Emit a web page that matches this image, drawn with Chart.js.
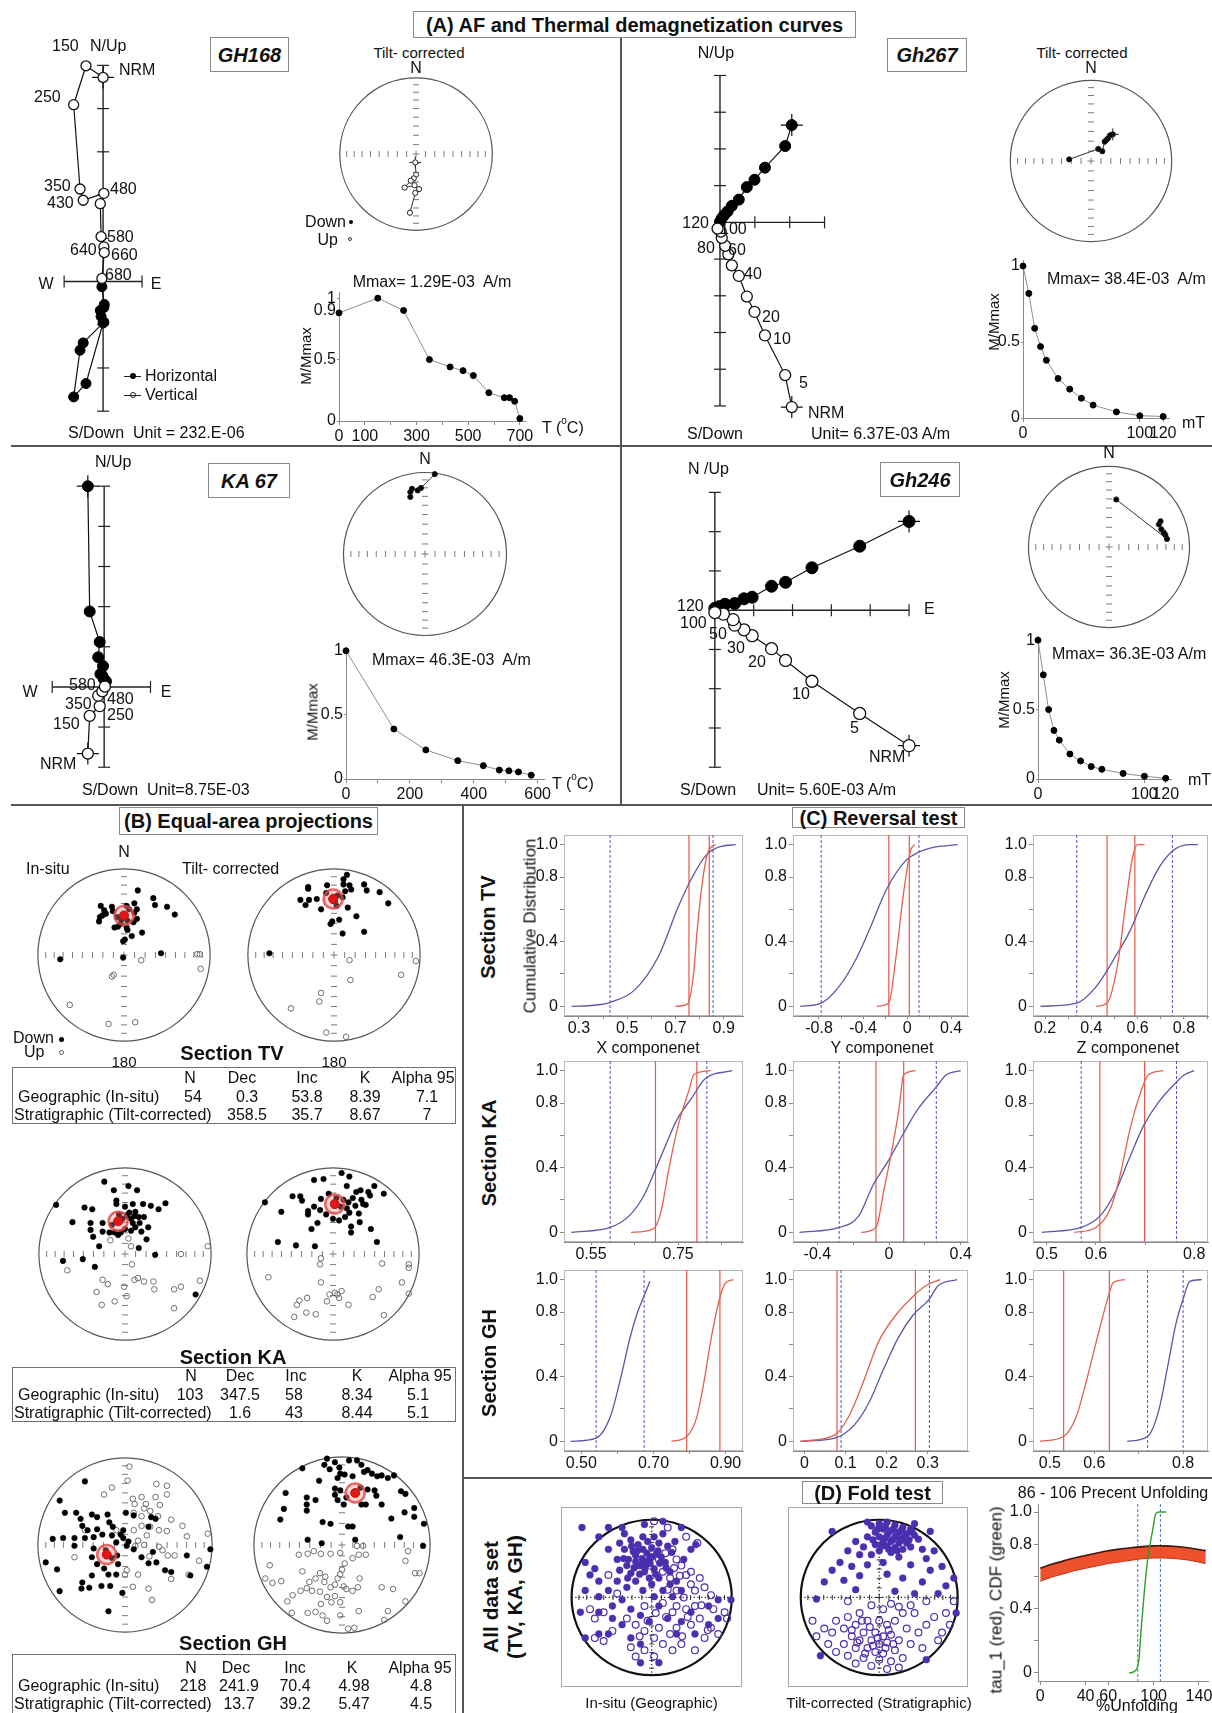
<!DOCTYPE html>
<html>
<head>
<meta charset="utf-8">
<title>Demagnetization, equal-area projections, reversal and fold tests</title>
<script src="https://cdn.jsdelivr.net/npm/chart.js@4/dist/chart.umd.min.js"></script>
<style>
  body { margin: 0; background: #fff; }
  #page { position: relative; width: 1212px; height: 1713px; overflow: hidden; background: #fff;
          font-family: "Liberation Sans", Arial, Helvetica, sans-serif; color: #111; }
  #page canvas { position: absolute; }
  .t { position: absolute; white-space: nowrap; line-height: 1; }
  .ln { position: absolute; }
  .bx { position: absolute; box-sizing: border-box; }
  .dt { position: absolute; box-sizing: border-box; border-radius: 50%; }
</style>
</head>
<body>
<div id="page"></div>
<script>
// ================= (A) demagnetization data =================
// Zijderveld: [E, N] (horizontal, solid) and [E, Up] (vertical, open), in axis-tick units
const gh168Vert  = [[0,4.72],[-0.43,4.99],[-0.74,4.09],[-0.58,2.14],[-0.50,1.88],[0.02,2.04],[-0.07,1.80],[-0.05,1.04],[0.02,0.80],[0.03,0.67],[-0.03,0.07]];
const gh168Horiz = [[0.0,-0.96],[-0.43,-2.36],[-0.74,-2.67],[-0.58,-1.59],[-0.50,-1.42],[0.02,-0.94],[-0.07,-0.67],[-0.05,-0.81],[0.02,-0.60],[0.03,-0.53],[-0.03,-0.12]];
const gh168VTicks = [-3,-2,-1,1,2,3,4,5];
const gh168HTicks = [-0.98,0.98];
const gh168Dirs = [[-0.01,-0.11],[0,-0.27],[-0.03,-0.32],[-0.07,-0.35],[-0.15,-0.44],[-0.02,-0.41],[0.04,-0.46],[-0.01,-0.51],[-0.08,-0.77]];
const gh168Temp = [0,150,250,350,430,480,520,580,640,660,680,700];
const gh168Int  = [0.88,1.0,0.90,0.50,0.44,0.41,0.37,0.23,0.19,0.19,0.16,0.02];

const gh267Vert  = [[2.06,-5.03],[1.87,-4.16],[1.29,-3.08],[0.99,-2.44],[0.77,-2.02],[0.54,-1.46],[0.34,-1.17],[0.24,-0.87],[0.15,-0.64],[0.05,-0.42],[0.02,-0.25],[-0.07,-0.17]];
const gh267Horiz = [[2.06,2.65],[1.87,2.08],[1.29,1.49],[0.99,1.16],[0.77,0.96],[0.54,0.62],[0.34,0.45],[0.22,0.30],[0.12,0.20],[0.05,0.11],[0,0.02]];
const gh267VTicks = [-5,-4,-3,-2,-1,1,2,3,4];
const gh267HTicks = [1,2,3];
const gh267Dirs = [[0.27,0.33],[0.24,0.32],[0.21,0.28],[0.19,0.26],[0.17,0.24],[0.14,0.12],[0.09,0.15],[-0.27,0.02]];
const gh267Field = [0,5,10,15,20,30,40,50,60,80,100,120];
const gh267Int   = [1.0,0.82,0.59,0.47,0.38,0.26,0.19,0.13,0.085,0.04,0.015,0.01];

const ka67Vert  = [[-0.44,-1.66],[-0.39,-0.72],[-0.12,-0.48],[-0.16,-0.22],[-0.05,-0.11],[0.02,0.01]];
const ka67Horiz = [[-0.44,5.0],[-0.39,1.88],[-0.12,1.12],[-0.16,0.74],[-0.03,0.52],[-0.10,0.32],[-0.05,0.28],[-0.01,0.20],[0.05,0.14]];
const ka67VTicks = [-2,-1,1,2,3,4,5];
const ka67HTicks = [-1.4,1.25];
const ka67Dirs = [[0.12,0.98],[-0.05,0.81],[-0.09,0.78],[-0.16,0.80],[-0.18,0.76],[-0.18,0.70]];
const ka67Temp = [0,150,250,350,430,480,510,540,580];
const ka67Int  = [1.0,0.39,0.227,0.143,0.104,0.07,0.064,0.055,0.03];

const gh246Vert  = [[5.0,-3.45],[3.73,-2.63],[2.50,-1.81],[1.82,-1.28],[1.46,-0.98],[0.96,-0.65],[0.75,-0.50],[0.51,-0.38],[0.47,-0.24],[0.22,-0.10],[0,-0.06]];
const gh246Horiz = [[5.0,2.26],[3.73,1.63],[2.50,1.08],[1.82,0.71],[1.46,0.61],[0.96,0.33],[0.75,0.29],[0.51,0.17],[0.26,0.15],[0.11,0.09],[0,0.05]];
const gh246VTicks = [-4,-3,-2,-1,1,2,3];
const gh246HTicks = [1,2,3,4,5];
const gh246Dirs = [[0.09,0.59],[0.72,0.10],[0.70,0.15],[0.68,0.18],[0.65,0.22],[0.62,0.28],[0.64,0.32]];
const gh246Field = [0,5,10,15,20,30,40,50,60,80,100,120];
const gh246Int   = [1.0,0.75,0.50,0.35,0.28,0.18,0.13,0.09,0.07,0.04,0.02,0.005];

// decay-curve tick labels
const thermTicks700 = [[0,'0'],[100,'100'],[200,''],[300,'300'],[400,''],[500,'500'],[600,''],[700,'700']];
const thermTicks600 = [[0,'0'],[100,''],[200,'200'],[300,''],[400,'400'],[500,''],[600,'600']];
const afTicks = [[0,'0'],[100,'100'],[120,'120']];
const gh168MTicks = [[0,'0'],[0.5,'0.5'],[0.9,'0.9'],[1,'1']];
const normTicks = [[0,'0'],[0.5,'0.5'],[1,'1']];

// ================= (B) equal-area projections (unit-circle x = E, y = N) =================
const tvInSolid = [[0.16,0.75],[0.34,0.66],[0.36,0.58],[0.50,0.56],[0.59,0.47],[0.12,0.60],[0.15,0.53],[0.12,0.49],[0.15,0.42],[0.11,0.38],[0.04,0.40],[0.03,0.32],[0.04,0.29],[0.01,0.18],[-0.01,0.16],[0.09,0.22],[0.21,0.26],[-0.27,0.57],[-0.23,0.52],[-0.21,0.48],[-0.14,0.56],[-0.13,0.51],[-0.28,0.44],[-0.29,0.39],[-0.25,0.46],[-0.11,0.32],[-0.07,0.33],[-0.04,0.36],[-0.08,0.44],[0.03,0.57],[0.06,0.53],[-0.03,0.41],[-0.74,-0.05],[-0.01,-0.03],[0.43,0.02]];
const tvInOpen = [[0.20,-0.06],[-0.14,-0.25],[-0.12,-0.23],[0.89,-0.16],[0.85,0.01],[0.88,0.01],[-0.63,-0.58],[-0.18,-0.80],[0.13,-0.78]];
const tvInMean = [0.0,0.46];
const tvTcSolid = [[0.15,0.93],[0.11,0.88],[0.11,0.82],[0.18,0.81],[0.20,0.76],[0.35,0.82],[0.38,0.75],[0.53,0.73],[0.63,0.60],[0.26,0.45],[0.35,0.27],[0.10,0.25],[0.16,0.55],[0.06,0.41],[-0.02,0.39],[-0.04,0.36],[0.01,0.62],[0.03,0.57],[0.04,0.69],[-0.08,0.81],[-0.09,0.72],[-0.15,0.53],[-0.20,0.65],[-0.29,0.64],[-0.33,0.58],[-0.39,0.64],[-0.30,0.79],[-0.30,0.77],[0.10,0.67],[0.13,0.74],[-0.75,0.02]];
const tvTcOpen = [[0.18,-0.06],[0.19,-0.29],[0.95,-0.07],[0.78,-0.23],[-0.15,-0.44],[-0.17,-0.54],[-0.50,-0.62],[-0.09,-0.90],[0.14,-0.95]];
const tvTcMean = [-0.01,0.65];

const kaInSolid = [[-0.24,0.84],[-0.13,0.74],[0.04,0.79],[0.14,0.74],[-0.10,0.62],[-0.10,0.58],[0.00,0.55],[0.09,0.58],[0.21,0.58],[0.30,0.56],[0.39,0.52],[0.47,0.59],[-0.80,0.57],[-0.61,0.37],[-0.47,0.54],[-0.38,0.52],[-0.40,0.36],[-0.40,0.28],[-0.37,0.20],[-0.26,0.36],[-0.26,0.26],[-0.18,0.25],[-0.15,0.34],[-0.12,0.25],[-0.08,0.22],[-0.05,0.25],[0.00,0.29],[0.02,0.44],[0.05,0.48],[0.07,0.41],[0.11,0.44],[0.12,0.49],[0.16,0.43],[0.09,0.36],[0.12,0.31],[0.17,0.36],[0.22,0.43],[0.27,0.31],[0.19,0.26],[0.07,0.27],[0.25,0.17],[0.16,0.07],[-0.30,0.09],[-0.49,-0.06],[-0.72,-0.08],[-0.35,-0.15],[0.35,-0.01],[0.82,-0.47],[-0.03,0.41],[-0.07,0.46]];
const kaInOpen = [[-0.17,0.16],[0.04,0.18],[0.07,0.09],[0.96,0.09],[0.65,0.00],[-0.67,-0.19],[0.08,-0.12],[-0.26,-0.30],[-0.20,-0.35],[-0.33,-0.44],[-0.27,-0.59],[-0.12,-0.55],[-0.01,-0.38],[0.02,-0.49],[0.11,-0.30],[0.15,-0.28],[0.22,-0.32],[0.33,-0.32],[0.34,-0.41],[0.57,-0.41],[0.65,-0.38],[0.87,-0.31],[0.57,-0.63]];
const kaInMean = [-0.08,0.38];
const kaTcSolid = [[0.10,0.94],[-0.22,0.86],[-0.11,0.87],[0.19,0.90],[0.16,0.79],[0.27,0.72],[0.32,0.74],[0.41,0.72],[0.48,0.79],[0.59,0.70],[0.43,0.68],[-0.47,0.67],[-0.38,0.67],[-0.36,0.62],[-0.14,0.64],[-0.05,0.70],[0.04,0.65],[0.12,0.63],[0.18,0.60],[0.23,0.65],[0.26,0.56],[0.33,0.63],[0.35,0.58],[0.38,0.57],[0.16,0.53],[0.19,0.48],[0.14,0.43],[0.07,0.39],[0.00,0.41],[-0.08,0.46],[-0.15,0.51],[-0.22,0.55],[-0.29,0.50],[-0.29,0.46],[-0.18,0.36],[-0.25,0.29],[0.21,0.32],[0.21,0.25],[0.31,0.37],[0.44,0.29],[0.02,0.56],[0.09,0.55],[0.30,0.47],[-0.79,0.60],[-0.60,0.49],[-0.64,0.14],[-0.43,0.10],[-0.21,0.09],[0.51,0.14]];
const kaTcOpen = [[-0.14,-0.05],[-0.15,-0.12],[-0.75,-0.27],[-0.14,-0.33],[0.57,-0.11],[0.88,-0.12],[0.88,-0.16],[0.80,-0.33],[0.53,-0.41],[0.46,-0.50],[0.88,-0.46],[-0.39,-0.54],[-0.42,-0.59],[-0.30,-0.51],[-0.04,-0.47],[0.02,-0.45],[0.05,-0.47],[0.07,-0.51],[0.10,-0.43],[-0.07,-0.55],[0.18,-0.59],[-0.45,-0.73],[-0.31,-0.68],[-0.20,-0.70],[0.59,-0.71]];
const kaTcMean = [0.02,0.58];

const ghInSolid = [[-0.46,0.73],[-0.75,0.51],[-0.69,0.37],[-0.56,0.37],[-0.51,0.30],[-0.38,0.35],[-0.32,0.32],[-0.20,0.35],[0.01,0.37],[0.10,0.34],[0.30,0.32],[-0.83,0.07],[-0.71,0.08],[-0.58,0.08],[-0.46,0.08],[-0.36,0.09],[-0.32,0.18],[-0.43,0.17],[-0.49,0.22],[-0.18,0.26],[-0.14,0.21],[-0.15,0.11],[-0.10,0.03],[-0.02,0.17],[-0.02,0.08],[0.02,-0.01],[0.04,0.04],[0.10,-0.05],[-0.91,-0.20],[-0.78,-0.28],[-0.58,-0.01],[-0.36,-0.04],[-0.38,-0.14],[-0.32,-0.22],[-0.24,-0.27],[-0.15,-0.15],[-0.09,-0.12],[-0.08,-0.22],[-0.19,-0.34],[-0.10,-0.34],[-0.38,-0.35],[-0.49,-0.43],[-0.50,-0.50],[-0.41,-0.49],[-0.27,-0.47],[-0.17,-0.47],[-0.03,-0.55],[-0.75,-0.53],[-0.19,-0.76],[0.19,-0.14],[0.27,-0.21],[0.36,-0.20],[0.46,-0.29],[0.53,-0.31],[0.75,-0.35],[0.94,-0.25],[0.98,-0.05],[0.71,-0.12],[0.32,-0.08],[0.35,0.30],[0.27,0.21],[-0.26,0.12],[-0.22,-0.06],[-0.05,0.12]];
const ghInOpen = [[0.05,0.90],[0.03,0.74],[-0.15,0.66],[-0.24,0.58],[0.36,0.70],[0.48,0.68],[0.48,0.58],[0.09,0.53],[0.19,0.55],[0.11,0.47],[0.24,0.47],[0.35,0.55],[0.40,0.46],[0.22,0.42],[0.29,0.39],[0.10,0.37],[0.19,0.33],[0.38,0.33],[0.53,0.29],[0.66,0.22],[0.95,0.13],[0.19,0.22],[0.29,0.21],[0.10,0.17],[0.25,0.11],[0.39,0.17],[0.48,0.16],[0.71,0.10],[0.15,0.05],[0.22,0.00],[0.12,-0.01],[0.39,-0.02],[0.43,-0.06],[0.49,-0.12],[0.57,-0.12],[-0.46,0.17],[-0.58,-0.14],[-0.10,0.17],[0.28,-0.13],[0.02,-0.29],[0.00,-0.34],[0.15,-0.34],[0.09,-0.48],[0.27,-0.50],[0.31,-0.63],[0.53,-0.39],[0.73,-0.34],[0.85,-0.18]];
const ghInMean = [-0.21,-0.11];
const ghTcSolid = [[-0.17,0.98],[-0.08,0.94],[0.08,0.96],[0.17,0.96],[0.22,0.91],[-0.20,0.91],[-0.14,0.86],[-0.03,0.88],[-0.02,0.81],[-0.05,0.76],[0.03,0.80],[0.12,0.78],[0.25,0.83],[0.29,0.85],[0.34,0.81],[0.40,0.78],[0.45,0.79],[0.52,0.76],[0.59,0.79],[-0.45,0.87],[-0.26,0.73],[-0.08,0.64],[-0.02,0.62],[-0.08,0.57],[0.05,0.54],[0.21,0.65],[0.29,0.63],[0.37,0.62],[0.39,0.56],[0.27,0.46],[0.22,0.46],[0.45,0.46],[0.02,0.46],[-0.05,0.51],[-0.30,0.51],[-0.40,0.54],[-0.40,0.46],[-0.40,0.39],[-0.64,0.59],[-0.66,0.41],[-0.70,0.29],[-0.22,0.26],[-0.13,0.24],[0.07,0.21],[0.12,0.21],[0.67,0.61],[0.72,0.58],[0.56,0.30],[0.71,0.37],[0.82,0.42],[0.82,0.32],[0.93,0.24],[0.66,0.09],[0.92,-0.01],[-0.39,0.06],[-0.23,0.02],[0.15,0.06]];
const ghTcOpen = [[0.17,-0.01],[0.24,-0.01],[0.19,-0.11],[0.27,-0.11],[0.12,-0.15],[-0.02,-0.09],[-0.13,-0.10],[-0.24,-0.10],[-0.32,-0.07],[-0.39,-0.10],[-0.49,-0.11],[0.03,-0.21],[0.00,-0.28],[-0.02,-0.33],[-0.05,-0.38],[-0.08,-0.45],[-0.19,-0.36],[-0.20,-0.42],[-0.25,-0.32],[-0.30,-0.38],[-0.37,-0.42],[-0.45,-0.30],[-0.47,-0.52],[-0.56,-0.57],[-0.62,-0.64],[-0.57,-0.77],[-0.82,-0.23],[-0.87,-0.38],[-0.79,-0.43],[-0.69,-0.41],[-0.40,-0.49],[-0.34,-0.52],[-0.25,-0.53],[-0.13,-0.48],[0.02,-0.47],[0.05,-0.50],[0.12,-0.52],[0.18,-0.48],[0.20,-0.38],[-0.17,-0.59],[-0.08,-0.58],[-0.24,-0.67],[-0.12,-0.65],[-0.02,-0.65],[-0.39,-0.77],[-0.30,-0.76],[-0.22,-0.80],[-0.17,-0.86],[-0.02,-0.80],[0.19,-0.75],[0.14,-0.94],[0.07,-0.95],[0.52,-0.75],[0.48,-0.85],[0.45,-0.48],[0.58,-0.50],[0.72,-0.64],[0.72,-0.18],[0.75,-0.07],[0.83,-0.32],[0.88,-0.32]];
const ghTcMean = [0.15,0.59];

// statistics tables
const tableHead = ['N','Dec','Inc','K','Alpha 95'];
const rowNames = ['Geographic (In-situ)','Stratigraphic (Tilt-corrected)'];
const tvStats = [['54','0.3','53.8','8.39','7.1'],['','358.5','35.7','8.67','7']];
const kaStats = [['103','347.5','58','8.34','5.1'],['','1.6','43','8.44','5.1']];
const ghStats = [['218','241.9','70.4','4.98','4.8'],['','13.7','39.2','5.47','4.5']];

// ================= (C) reversal test: bootstrap CDFs [value, cumulative] =================
const cdfYTicks = [[0,'0'],[0.2,''],[0.4,'0.4'],[0.6,''],[0.8,'0.8'],[1,'1.0']];
const tvXTicks = [[0.3,'0.3'],[0.4,''],[0.5,'0.5'],[0.6,''],[0.7,'0.7'],[0.8,''],[0.9,'0.9']];
const tvXBlue = [[0.27,0],[0.35,0.005],[0.43,0.025],[0.53,0.10],[0.63,0.31],[0.71,0.61],[0.77,0.80],[0.83,0.94],[0.89,0.99],[0.95,1.0]];
const tvXRed  = [[0.70,0],[0.75,0.015],[0.775,0.2],[0.79,0.47],[0.81,0.75],[0.83,0.93],[0.85,0.99],[0.865,1.0]];
const tvXBounds = {blue: [0.429,0.856], red: [0.756,0.84]};
const tvYTicks = [[-0.8,'-0.8'],[-0.6,''],[-0.4,'-0.4'],[-0.2,''],[0,'0'],[0.2,''],[0.4,'0.4']];
const tvYBlue = [[-0.97,0],[-0.78,0.02],[-0.62,0.12],[-0.45,0.31],[-0.32,0.51],[-0.19,0.72],[-0.015,0.90],[0.11,0.955],[0.25,0.985],[0.46,1.0]];
const tvYRed  = [[-0.275,0],[-0.166,0.02],[-0.10,0.31],[-0.036,0.68],[0.03,0.96],[0.07,1.0]];
const tvYBounds = {blue: [-0.78,0.108], red: [-0.166,0.02]};
const tvZTicks = [[0.2,'0.2'],[0.3,''],[0.4,'0.4'],[0.5,''],[0.6,'0.6'],[0.7,''],[0.8,'0.8'],[0.9,'']];
const tvZBlue = [[0.18,0],[0.337,0.02],[0.42,0.12],[0.505,0.31],[0.568,0.47],[0.63,0.68],[0.693,0.86],[0.75,0.96],[0.82,1.0],[0.86,1.0]];
const tvZRed  = [[0.42,0],[0.468,0.02],[0.515,0.27],[0.547,0.62],[0.578,0.92],[0.60,1.0],[0.63,1.0]];
const tvZBounds = {blue: [0.337,0.75], red: [0.468,0.588]};

const kaXTicks = [[0.55,'0.55'],[0.65,''],[0.75,'0.75'],[0.85,'']];
const kaXBlue = [[0.505,0],[0.594,0.03],[0.637,0.10],[0.670,0.22],[0.692,0.35],[0.720,0.53],[0.748,0.70],[0.781,0.83],[0.812,0.95],[0.874,1.0]];
const kaXRed  = [[0.642,0],[0.692,0.02],[0.71,0.12],[0.73,0.41],[0.752,0.68],[0.775,0.88],[0.786,0.975],[0.825,1.0]];
const kaXBounds = {blue: [0.594,0.816], red: [0.698,0.793]};
const kaYTicks = [[-0.4,'-0.4'],[-0.2,''],[0,'0'],[0.2,''],[0.4,'0.4']];
const kaYBlue = [[-0.50,0],[-0.278,0.03],[-0.17,0.10],[-0.09,0.29],[0.0,0.45],[0.08,0.61],[0.16,0.76],[0.264,0.90],[0.32,0.975],[0.40,1.0]];
const kaYRed  = [[-0.155,0],[-0.073,0.03],[-0.027,0.27],[0.013,0.49],[0.055,0.76],[0.082,0.975],[0.148,1.0]];
const kaYBounds = {blue: [-0.278,0.264], red: [-0.073,0.082]};
const kaZTicks = [[0.5,'0.5'],[0.6,'0.6'],[0.7,''],[0.8,'0.8']];
const kaZBlue = [[0.49,0],[0.57,0.03],[0.608,0.10],[0.638,0.24],[0.667,0.45],[0.697,0.66],[0.726,0.80],[0.764,0.93],[0.78,0.975],[0.80,1.0]];
const kaZRed  = [[0.556,0],[0.60,0.03],[0.630,0.15],[0.649,0.35],[0.668,0.62],[0.687,0.83],[0.707,0.975],[0.737,1.0]];
const kaZBounds = {blue: [0.57,0.764], red: [0.608,0.699]};

const ghXTicks = [[0.5,'0.50'],[0.6,''],[0.7,'0.70'],[0.8,''],[0.9,'0.90']];
const ghXBlue = [[0.47,0],[0.541,0.02],[0.58,0.15],[0.61,0.40],[0.636,0.65],[0.656,0.80],[0.674,0.90],[0.69,0.99]];
const ghXRed  = [[0.75,0],[0.792,0.03],[0.82,0.15],[0.84,0.37],[0.86,0.64],[0.884,0.89],[0.90,0.98],[0.922,1.0]];
const ghXBounds = {blue: [0.541,0.674], red: [0.792,0.884]};
const ghYTicks = [[0,'0'],[0.1,'0.1'],[0.2,'0.2'],[0.3,'0.3']];
const ghYBlue = [[-0.01,0],[0.074,0.02],[0.121,0.10],[0.157,0.24],[0.193,0.45],[0.228,0.64],[0.264,0.78],[0.304,0.88],[0.324,0.96],[0.371,1.0]];
const ghYRed  = [[-0.01,0],[0.074,0.04],[0.109,0.16],[0.145,0.38],[0.181,0.62],[0.222,0.78],[0.27,0.91],[0.30,0.97],[0.33,1.0]];
const ghYBounds = {blue: [0.089,0.304], red: [0.079,0.27]};
const ghZTicks = [[0.5,'0.5'],[0.6,'0.6'],[0.7,''],[0.8,'0.8']];
const ghZBlue = [[0.674,0],[0.72,0.03],[0.745,0.19],[0.765,0.46],[0.784,0.73],[0.80,0.88],[0.815,0.99],[0.842,1.0]];
const ghZRed  = [[0.478,0],[0.531,0.03],[0.559,0.15],[0.582,0.37],[0.603,0.60],[0.634,0.92],[0.642,0.98],[0.669,1.0]];
const ghZBounds = {blue: [0.72,0.80], red: [0.531,0.634]};

// ================= (D) fold test =================
const foldInSolid = [[-0.87,0.90],[-0.66,0.78],[-0.34,0.82],[-0.09,0.94],[0.14,0.82],[0.29,0.72],[0.55,0.68],[-0.83,0.45],[-0.71,0.37],[-0.54,0.62],[-0.43,0.49],[-0.31,0.41],[-0.20,0.54],[-0.14,0.41],[-0.09,0.33],[-0.03,0.49],[0.03,0.37],[0.09,0.25],[0.17,0.45],[0.23,0.33],[0.31,0.21],[-0.20,0.21],[-0.31,0.13],[-0.43,0.21],[-0.54,0.09],[-0.66,0.01],[-0.83,0.09],[-0.89,-0.19],[-0.66,-0.19],[-0.49,-0.11],[-0.37,-0.03],[-0.26,-0.15],[-0.14,-0.23],[-0.03,-0.31],[0.09,-0.11],[0.20,-0.27],[-0.37,-0.35],[-0.54,-0.47],[-0.26,-0.52],[-0.14,-0.60],[-0.14,-0.84],[0.09,-0.84],[0.37,-0.31],[0.49,-0.19],[0.71,-0.11],[0.83,-0.03],[0.99,-0.03],[0.83,-0.27],[0.71,-0.35],[0.54,-0.47],[0.31,-0.47],[0.49,0.62],[0.40,0.49],[-0.26,0.74],[-0.17,0.68],[-0.11,0.62],[-0.06,0.57],[0,0.64],[0.06,0.56],[0.09,0.70],[0.03,0.78],[-0.11,0.78],[-0.23,0.59],[-0.29,0.49],[-0.11,0.47],[-0.06,0.43],[-0.26,0.31],[-0.03,0.25],[-0.66,0.21],[-0.77,0.29],[0.14,0.09],[0.26,0.01],[-0.49,-0.27],[-0.66,-0.47],[-0.83,-0.52],[0.14,0.98],[-0.37,0.90],[0.37,0.90],[-0.54,0.90],[-0.17,0.41],[0,0.17],[-0.11,0.09],[0.23,0.17],[0.37,0.09],[0.03,0.01],[-0.34,0.62],[-0.40,0.35],[-0.05,0.72],[0.0,0.52],[-0.18,0.60],[0.08,0.60],[-0.12,0.50],[0.12,0.52],[-0.25,0.66],[0.20,0.66],[-0.35,0.50],[-0.08,0.38],[0.05,0.30],[-0.22,0.38],[0.18,0.38],[-0.40,0.70],[0.25,0.58],[-0.15,0.30],[-0.30,0.25],[0.10,0.44],[-0.02,0.44],[-0.20,0.46]];
const foldInOpen = [[0.03,0.98],[0.20,0.90],[0.43,0.78],[0.57,0.70],[0.26,0.62],[0.37,0.41],[0.49,0.33],[0.60,0.25],[0.14,0.33],[0.23,0.25],[0.49,0.17],[0.66,0.13],[0.31,-0.11],[0.43,-0.15],[0.54,-0.11],[0.77,-0.15],[0.91,-0.19],[0.94,-0.27],[0.74,-0.39],[0.60,-0.27],[0.49,-0.35],[0.31,-0.39],[0.23,-0.47],[0.09,-0.39],[0.03,-0.52],[-0.09,-0.43],[-0.20,-0.35],[-0.31,-0.27],[-0.60,-0.19],[-0.77,-0.15],[-0.71,-0.27],[-0.49,-0.43],[-0.60,-0.56],[-0.26,-0.64],[-0.20,-0.76],[0.26,-0.68],[0.37,-0.60],[0.54,-0.68],[0.66,-0.52],[0.83,-0.47],[0.14,-0.07],[0.26,-0.19],[-0.09,-0.11],[-0.43,0.05],[-0.54,0.29],[0.09,0.49],[0.17,0.57],[0.31,0.49],[0.43,0.29],[0.54,0.09],[0.74,0.03],[0.31,0.09],[-0.71,-0.52],[0.14,-0.60],[-0.09,-0.68],[0.03,-0.76],[0.28,0.38],[0.35,0.28],[0.20,0.10],[0.40,0.00],[0.45,-0.25],[0.18,-0.25],[0.05,-0.20],[-0.05,-0.30],[0.62,-0.10],[0.70,-0.42],[0.38,-0.50],[-0.15,-0.50]];
const foldTcSolid = [[0.00,0.95],[0.10,0.97],[0.20,0.93],[-0.10,0.92],[0.30,0.90],[0.40,0.88],[0.05,0.88],[0.15,0.86],[0.25,0.84],[-0.05,0.84],[0.35,0.82],[0.45,0.80],[0.10,0.80],[0.20,0.78],[0.00,0.78],[0.30,0.76],[-0.15,0.78],[0.15,0.72],[0.25,0.70],[0.05,0.72],[0.35,0.70],[0.40,0.65],[-0.05,0.68],[0.10,0.66],[0.20,0.64],[0.30,0.62],[-0.20,0.65],[0.00,0.60],[0.15,0.58],[0.50,0.75],[0.55,0.62],[-0.30,0.72],[-0.40,0.60],[-0.25,0.55],[-0.10,0.55],[0.25,0.52],[0.60,0.50],[0.70,0.60],[-0.50,0.45],[-0.60,0.35],[-0.35,0.40],[-0.15,0.42],[0.05,0.45],[0.40,0.42],[0.65,0.35],[0.80,0.40],[-0.70,0.20],[-0.45,0.22],[-0.25,0.28],[0.10,0.30],[0.30,0.25],[0.55,0.20],[0.85,0.15],[0.95,0.25],[-0.80,-0.02],[-0.30,0.10],[0.20,0.08],[0.45,0.05],[0.75,0.05],[-0.60,0.85],[0.65,0.85],[-0.15,0.97],[0.45,0.95],[0.98,-0.20],[-0.75,-0.75],[0.60,-0.80],[0.08,0.92],[0.18,0.88],[0.28,0.86],[-0.02,0.88],[0.12,0.84],[0.22,0.80],[0.32,0.78],[0.07,0.76],[0.17,0.74],[0.27,0.73],[0.38,0.74],[-0.08,0.74],[0.03,0.66],[0.23,0.60],[0.12,0.62],[0.42,0.84]];
const foldTcOpen = [[-0.10,-0.10],[0.05,-0.15],[0.15,-0.08],[0.25,-0.12],[-0.25,-0.20],[-0.40,-0.25],[-0.55,-0.30],[-0.70,-0.40],[-0.85,-0.30],[-0.80,-0.50],[-0.60,-0.45],[-0.45,-0.40],[-0.30,-0.35],[-0.15,-0.30],[0.00,-0.30],[0.10,-0.35],[0.20,-0.30],[-0.20,-0.45],[-0.05,-0.45],[0.05,-0.50],[0.15,-0.48],[-0.35,-0.50],[-0.25,-0.55],[-0.10,-0.55],[0.00,-0.60],[0.10,-0.58],[0.25,-0.55],[-0.45,-0.60],[-0.30,-0.65],[-0.15,-0.65],[-0.05,-0.70],[0.05,-0.72],[0.20,-0.68],[-0.40,-0.75],[-0.20,-0.78],[0.00,-0.80],[0.15,-0.82],[0.30,-0.78],[-0.10,-0.88],[0.10,-0.92],[0.25,-0.90],[-0.30,-0.85],[0.40,-0.60],[0.50,-0.45],[0.60,-0.35],[0.70,-0.25],[0.80,-0.45],[0.85,-0.20],[0.90,-0.35],[0.55,-0.65],[0.75,-0.55],[0.35,-0.40],[0.45,-0.20],[-0.65,-0.60],[-0.55,-0.70],[0.30,-0.20],[0.40,-0.10],[-0.40,-0.05],[0.60,-0.05],[0.95,-0.05],[-0.12,-0.38],[-0.22,-0.30],[-0.08,-0.62],[0.08,-0.65],[-0.28,-0.58],[-0.18,-0.72],[0.12,-0.42],[-0.35,-0.42],[-0.02,-0.52],[0.18,-0.60]];
const unfoldPct   = [0,10,20,30,40,50,60,70,80,90,100,110,120,130,146];
const tauUpper    = [0.65,0.675,0.695,0.715,0.73,0.745,0.76,0.77,0.778,0.785,0.79,0.79,0.786,0.778,0.76];
const tauLower    = [0.57,0.595,0.615,0.635,0.65,0.665,0.68,0.69,0.70,0.71,0.714,0.714,0.71,0.702,0.68];
const foldCdf     = [[78.5,0],[83,0.01],[87,0.08],[89,0.27],[92,0.52],[95,0.72],[99,0.88],[102,0.99],[105,1.0],[111,1.0]];
const foldBounds  = [86,106];
const foldXTicks  = [[0,'0'],[40,'40'],[60,'60'],[100,'100'],[140,'140']];

// equal-area grid ticks every 10 degrees of inclination
const eqTickInc = [80,70,60,50,40,30,20,10];

// ================= helpers =================
const page = document.getElementById('page');
Chart.defaults.font.family = '"Liberation Sans", Arial, Helvetica, sans-serif';
Chart.defaults.color = '#111';

const P = arr => arr.map(([x, y]) => ({ x, y }));
const zip = (a, b) => a.map((v, i) => [v, b[i]]);
const BLUE = '#5b57a8', RED = '#e2604e', PURPLE = '#4b2fae';

function txt(x, y, html, o = {}) {
  const d = document.createElement('div');
  d.className = 't';
  d.innerHTML = html;
  d.style.fontSize = (o.size || 16) + 'px';
  if (o.bold) d.style.fontWeight = 'bold';
  if (o.italic) d.style.fontStyle = 'italic';
  if (o.lh) d.style.lineHeight = o.lh;
  if (o.align) d.style.textAlign = o.align;
  d.style.left = x + 'px';
  d.style.top = y + 'px';
  const a = o.a || 'c';
  const tx = a === 'l' ? '0' : a === 'r' ? '-100%' : '-50%';
  d.style.transform = `translate(${tx},-50%)` + (o.rot ? ` rotate(${o.rot}deg)` : '');
  page.appendChild(d);
}
function hl(x1, x2, y, w = 1.5, c = '#555') {
  const d = document.createElement('div');
  d.className = 'ln';
  Object.assign(d.style, { left: x1 + 'px', top: (y - w / 2) + 'px', width: (x2 - x1) + 'px', height: w + 'px', background: c });
  page.appendChild(d);
}
function vl(x, y1, y2, w = 1.5, c = '#555') {
  const d = document.createElement('div');
  d.className = 'ln';
  Object.assign(d.style, { left: (x - w / 2) + 'px', top: y1 + 'px', width: w + 'px', height: (y2 - y1) + 'px', background: c });
  page.appendChild(d);
}
function bx(x1, y1, x2, y2, c = '#8a8a8a', w = 1.5) {
  const d = document.createElement('div');
  d.className = 'bx';
  Object.assign(d.style, { left: x1 + 'px', top: y1 + 'px', width: (x2 - x1) + 'px', height: (y2 - y1) + 'px', border: `${w}px solid ${c}` });
  page.appendChild(d);
}
function dot(x, y, r, filled, c = '#000') {
  const d = document.createElement('div');
  d.className = 'dt';
  Object.assign(d.style, { left: (x - r) + 'px', top: (y - r) + 'px', width: 2 * r + 'px', height: 2 * r + 'px' });
  if (filled) d.style.background = c; else d.style.border = `1px solid ${c}`;
  page.appendChild(d);
}

function canvasAt(l, t, w, h) {
  const c = document.createElement('canvas');
  c.width = w; c.height = h;
  c.style.left = l + 'px'; c.style.top = t + 'px';
  c.style.width = w + 'px'; c.style.height = h + 'px';
  page.appendChild(c);
  return c;
}
const baseOpts = () => ({
  responsive: false, animation: false, devicePixelRatio: 1, events: [],
  plugins: { legend: { display: false }, tooltip: { enabled: false } }
});

// plot area fills the whole canvas, no drawn axes
function freeChart(l, t, w, h, xr, yr, datasets, plugins) {
  const o = baseOpts();
  o.layout = { padding: 0 };
  o.scales = {
    x: { type: 'linear', display: false, min: xr[0], max: xr[1] },
    y: { type: 'linear', display: false, min: yr[0], max: yr[1] }
  };
  return new Chart(canvasAt(l, t, w, h), { type: 'scatter', data: { datasets }, options: o, plugins });
}

// scale with fixed thickness and explicit ticks
function axisScale(c, horiz, size) {
  return {
    type: 'linear', min: c.min, max: c.max, bounds: 'data',
    afterFit: s => { if (horiz) s.height = size; else s.width = size; },
    afterBuildTicks: s => { s.ticks = c.ticks.map(tk => ({ value: tk[0] })); },
    ticks: {
      autoSkip: false, maxRotation: 0, minRotation: 0, padding: c.pad ?? 2,
      font: { size: c.fs || 16 }, color: '#111',
      callback: (v, i) => (c.ticks[i] ? c.ticks[i][1] : '')
    },
    grid: { display: true, drawOnChartArea: false, drawTicks: true, tickLength: c.tl ?? 4, color: c.gc || '#8a8a8a' },
    border: { display: true, color: c.bc || '#8a8a8a', width: 1 }
  };
}
function axisChart(plot, datasets, xc, yc, plugins = [], L = 44, B = 24, type = 'scatter') {
  const T = 12, R = 26;
  const o = baseOpts();
  o.layout = { padding: { left: 0, top: T, right: R, bottom: 0 } };
  o.scales = { x: axisScale(xc, true, B), y: axisScale(yc, false, L) };
  return new Chart(canvasAt(plot.l - L, plot.t - T, plot.w + L + R, plot.h + T + B),
    { type, data: { datasets }, options: o, plugins });
}

// Zijderveld axes through the origin
function zijAxes(ax) {
  return {
    id: 'zij',
    beforeDatasetsDraw(chart) {
      const { ctx, scales: { x, y } } = chart;
      const X = v => x.getPixelForValue(v), Y = v => y.getPixelForValue(v);
      ctx.save();
      ctx.strokeStyle = '#222'; ctx.lineWidth = 1.4;
      ctx.beginPath();
      ctx.moveTo(X(0), Y(ax.v[0])); ctx.lineTo(X(0), Y(ax.v[1]));
      ctx.moveTo(X(ax.h[0]), Y(0)); ctx.lineTo(X(ax.h[1]), Y(0));
      ctx.stroke();
      ctx.lineWidth = 1.2;
      ax.vt.forEach(v => { ctx.beginPath(); ctx.moveTo(X(0) - 6, Y(v)); ctx.lineTo(X(0) + 6, Y(v)); ctx.stroke(); });
      ax.ht.forEach(v => { ctx.beginPath(); ctx.moveTo(X(v), Y(0) - 6); ctx.lineTo(X(v), Y(0) + 6); ctx.stroke(); });
      ctx.restore();
    }
  };
}
function zijChart(rect, ox, oy, s, datasets, ax) {
  const [l, t, w, h] = rect;
  return freeChart(l, t, w, h, [(l - ox) / s, (l + w - ox) / s], [(oy - t - h) / s, (oy - t) / s], datasets, [zijAxes(ax)]);
}
function zijSets(vert, horiz, r, crosses) {
  return [
    { data: P(vert), showLine: true, borderColor: '#111', borderWidth: 1.2, pointRadius: r,
      pointBackgroundColor: '#fff', pointBorderColor: '#111', pointBorderWidth: 1.3, clip: false },
    { data: P(horiz), showLine: true, borderColor: '#111', borderWidth: 1.2, pointRadius: r,
      pointBackgroundColor: '#000', pointBorderColor: '#000', pointBorderWidth: 1, clip: false },
    { data: P(crosses), pointStyle: 'cross', pointRadius: 11, pointBorderColor: '#111', pointBorderWidth: 1.2, clip: false }
  ];
}

// equal-area net: primitive circle, axis ticks, centre cross
const eqRad = inc => Math.SQRT2 * Math.sin((90 - inc) * Math.PI / 360);
function stereoNet(st) {
  return {
    id: 'stereo',
    beforeDatasetsDraw(chart) {
      const { ctx, scales: { x, y } } = chart;
      const cx = x.getPixelForValue(0), cy = y.getPixelForValue(0);
      const rx = x.getPixelForValue(1) - cx, ry = cy - y.getPixelForValue(1);
      ctx.save();
      if (st === 'D') {
        ctx.strokeStyle = '#222'; ctx.lineWidth = 1.3; ctx.setLineDash([1.3, 2.4]);
        ctx.beginPath();
        ctx.moveTo(cx - rx, cy); ctx.lineTo(cx + rx, cy);
        ctx.moveTo(cx, cy - ry); ctx.lineTo(cx, cy + ry);
        ctx.stroke();
        ctx.setLineDash([]);
      }
      ctx.strokeStyle = st === 'D' ? '#333' : '#7a7a7a'; ctx.lineWidth = 1;
      const tk = st === 'D' ? 2.5 : 3;
      eqTickInc.forEach(inc => {
        const r = eqRad(inc);
        [-1, 1].forEach(sg => {
          const px = cx + sg * r * rx, py = cy - sg * r * ry;
          ctx.beginPath();
          ctx.moveTo(px, cy - tk); ctx.lineTo(px, cy + tk);
          ctx.moveTo(cx - tk, py); ctx.lineTo(cx + tk, py);
          ctx.stroke();
        });
      });
      ctx.beginPath();
      ctx.moveTo(cx - 3.5, cy); ctx.lineTo(cx + 3.5, cy);
      ctx.moveTo(cx, cy - 3.5); ctx.lineTo(cx, cy + 3.5);
      ctx.stroke();
      ctx.strokeStyle = st === 'D' ? '#111' : '#555';
      ctx.lineWidth = st === 'D' ? 2.2 : 1.2;
      ctx.beginPath(); ctx.ellipse(cx, cy, rx, ry, 0, 0, Math.PI * 2); ctx.stroke();
      ctx.restore();
    }
  };
}
function stereoChart(cx, cy, rx, ry, datasets, st, rect) {
  const r = rect || [Math.round(cx - rx - 10), Math.round(cy - ry - 10), Math.round(2 * rx + 20), Math.round(2 * ry + 20)];
  const xr = [(r[0] - cx) / rx, (r[0] + r[2] - cx) / rx];
  const yr = [(cy - r[1] - r[3]) / ry, (cy - r[1]) / ry];
  return freeChart(r[0], r[1], r[2], r[3], xr, yr, datasets, [stereoNet(st)]);
}
function netSets(solid, open, mean) {
  return [
    { data: P([mean]), pointRadius: 4.5, pointBackgroundColor: '#e01818', pointBorderColor: '#c41010', pointBorderWidth: 1, clip: false },
    { data: P([mean]), pointRadius: 9.5, pointBackgroundColor: 'rgba(240,140,140,0.35)', pointBorderColor: 'rgba(226,70,70,0.8)', pointBorderWidth: 2.5, clip: false },
    { data: P(solid), pointRadius: 2.8, pointBackgroundColor: '#000', pointBorderColor: '#000', pointBorderWidth: 0.5, clip: false },
    { data: P(open), pointRadius: 2.8, pointBackgroundColor: 'rgba(0,0,0,0)', pointBorderColor: '#6e6e6e', pointBorderWidth: 1, clip: false }
  ];
}
function dirSets(dirs, filled, cross) {
  const sets = [{ data: P(dirs), showLine: true, borderColor: '#333', borderWidth: 1, pointRadius: 2.6,
    pointBackgroundColor: filled ? '#000' : '#fff', pointBorderColor: '#222', pointBorderWidth: 1, clip: false }];
  if (cross) sets.push({ data: P([dirs[0]]), pointStyle: 'cross', pointRadius: 6, pointBorderColor: '#222', pointBorderWidth: 1, clip: false });
  return sets;
}
function decaySets(xs, ys) {
  return [{ data: P(zip(xs, ys)), showLine: true, borderColor: '#8f8f8f', borderWidth: 1, pointRadius: 3,
    pointBackgroundColor: '#000', pointBorderColor: '#000', clip: false }];
}
function decayChart(plot, xs, ys, xc, yc) {
  return axisChart(plot, decaySets(xs, ys), xc, Object.assign({ tl: 2, pad: 1 }, yc), [], 40, 24);
}

// frame + vertical confidence bounds for reversal-test panels
function cdfMarks(bounds) {
  return {
    id: 'marks',
    beforeDatasetsDraw(chart) {
      const { ctx, chartArea: a, scales: { x } } = chart;
      ctx.save();
      ctx.strokeStyle = '#b8b8b8'; ctx.lineWidth = 1;
      ctx.strokeRect(a.left + 0.5, a.top + 0.5, a.width - 1, a.height - 1);
      ctx.lineWidth = 1; ctx.strokeStyle = '#4f4fd6'; ctx.setLineDash([3, 2]);
      bounds.blue.forEach(v => { const px = x.getPixelForValue(v); ctx.beginPath(); ctx.moveTo(px, a.top); ctx.lineTo(px, a.bottom); ctx.stroke(); });
      ctx.setLineDash([]); ctx.strokeStyle = '#e25a48'; ctx.lineWidth = 1.2;
      bounds.red.forEach(v => { const px = x.getPixelForValue(v); ctx.beginPath(); ctx.moveTo(px, a.top); ctx.lineTo(px, a.bottom); ctx.stroke(); });
      ctx.restore();
    }
  };
}
const cdfCols = [{ l: 564, w: 179 }, { l: 793, w: 175 }, { l: 1033, w: 175 }];
const cdfRows = [835, 1061, 1270];
function cdfChart(col, row, xr, ticks, blue, red, bounds) {
  const plot = { l: cdfCols[col].l, t: cdfRows[row], w: cdfCols[col].w, h: 181 };
  const ds = [
    { data: P(red), showLine: true, borderColor: RED, borderWidth: 1.3, pointRadius: 0, cubicInterpolationMode: 'monotone' },
    { data: P(blue), showLine: true, borderColor: BLUE, borderWidth: 1.3, pointRadius: 0, cubicInterpolationMode: 'monotone' }
  ];
  axisChart(plot, ds,
    { min: xr[0], max: xr[1], ticks, tl: 3, pad: 0 },
    { min: -0.06, max: 1.06, ticks: cdfYTicks, tl: 4, pad: 2 },
    [cdfMarks(bounds)], 44, 22);
}

// ================= panel frame lines =================
hl(11, 1212, 446);
hl(11, 1212, 805);
vl(621, 38, 805);
vl(463, 805, 1713);
hl(463, 1212, 1478);

// ================= (A) =================
bx(413, 11, 856, 38);
txt(634.5, 25, '(A) AF and Thermal demagnetization curves', { bold: true, size: 20 });

// GH168
zijChart([20, 40, 180, 405], 102, 284, 46, zijSets(gh168Vert, gh168Horiz, 5, [gh168Vert[0]]),
  { v: [-3, 5], h: [-0.98, 0.98], vt: gh168VTicks, ht: gh168HTicks });
stereoChart(416, 154, 82.5, 82.5, dirSets(gh168Dirs, false, true), 'A');
decayChart({ l: 339, t: 292, w: 186, h: 129 }, gh168Temp, gh168Int,
  { min: 0, max: 720, ticks: thermTicks700 }, { min: 0, max: 1.05, ticks: gh168MTicks });

// Gh267
zijChart([650, 50, 220, 385], 715, 221, 39.2, zijSets(gh267Vert, gh267Horiz, 5.5, [gh267Vert[0], gh267Horiz[0]]),
  { v: [-5, 4], h: [0, 3], vt: gh267VTicks, ht: gh267HTicks });
stereoChart(1091, 161, 87, 87, dirSets(gh267Dirs, true, true), 'A');
decayChart({ l: 1023, t: 260, w: 146, h: 158 }, gh267Field, gh267Int,
  { min: 0, max: 125, ticks: afTicks }, { min: 0, max: 1.04, ticks: normTicks });

// KA 67
zijChart([20, 455, 170, 335], 104, 692, 43.3, zijSets(ka67Vert, ka67Horiz, 5.5, [ka67Vert[0], ka67Horiz[0]]),
  { v: [-2, 5], h: [-1.4, 1.25], vt: ka67VTicks, ht: ka67HTicks });
stereoChart(425, 554, 86, 86, dirSets(ka67Dirs, true, false), 'A');
decayChart({ l: 346, t: 647, w: 198, h: 132 }, ka67Temp, ka67Int,
  { min: 0, max: 620, ticks: thermTicks600 }, { min: 0, max: 1.03, ticks: normTicks });

// Gh246
zijChart([650, 460, 290, 330], 707.5, 609, 42.4, zijSets(gh246Vert, gh246Horiz, 6, [gh246Vert[0], gh246Horiz[0]]),
  { v: [-4, 3], h: [0, 5], vt: gh246VTicks, ht: gh246HTicks });
stereoChart(1109, 547, 85, 85, dirSets(gh246Dirs, true, false), 'A');
decayChart({ l: 1038, t: 636, w: 133, h: 143 }, gh246Field, gh246Int,
  { min: 0, max: 125, ticks: afTicks }, { min: 0, max: 1.03, ticks: normTicks });

// ----- (A) texts -----
const SUP = '<sup style="font-size:10px;position:relative;top:-2px">o</sup>';
// GH168
bx(210, 37, 289, 72); txt(249.5, 55, 'GH168', { bold: true, italic: true, size: 20 });
txt(90, 46, 'N/Up', { a: 'l' });
txt(52, 46, '150', { a: 'l' }); txt(119, 70, 'NRM', { a: 'l' }); txt(34, 97, '250', { a: 'l' });
txt(44, 186, '350', { a: 'l' }); txt(47, 203, '430', { a: 'l' }); txt(110, 189, '480', { a: 'l' });
txt(107, 237, '580', { a: 'l' }); txt(70, 250, '640', { a: 'l' }); txt(111, 255, '660', { a: 'l' });
txt(105, 275, '680', { a: 'l' });
txt(46, 284, 'W'); txt(156, 284, 'E');
txt(68, 433, 'S/Down&nbsp; Unit = 232.E-06', { a: 'l' });
hl(124, 141, 376, 1, '#222'); dot(132.5, 376, 3, true);
txt(145, 376, 'Horizontal', { a: 'l' });
hl(124, 141, 395, 1, '#222'); dot(132.5, 395, 3, false, '#222');
txt(145, 395, 'Vertical', { a: 'l' });
txt(419, 52, 'Tilt- corrected', { size: 15 }); txt(416, 68, 'N');
txt(346, 222, 'Down', { a: 'r' }); dot(351, 222, 2.3, true);
txt(338, 240, 'Up', { a: 'r' }); dot(350, 239, 2.3, false, '#333');
txt(432, 282, 'Mmax= 1.29E-03&nbsp; A/m');
txt(305, 356, 'M/Mmax', { rot: -90, size: 15 });
txt(542, 427, 'T (' + SUP + 'C)', { a: 'l' });

// Gh267
bx(887, 38, 967, 72); txt(927, 55, 'Gh267', { bold: true, italic: true, size: 20 });
txt(716, 53, 'N/Up'); txt(715, 434, 'S/Down'); txt(811, 434, 'Unit= 6.37E-03 A/m', { a: 'l' });
txt(709, 223, '120', { a: 'r' }); txt(720, 229, '100', { a: 'l' }); txt(697, 248, '80', { a: 'l' });
txt(728, 250, '60', { a: 'l' }); txt(744, 274, '40', { a: 'l' }); txt(762, 317, '20', { a: 'l' });
txt(773, 339, '10', { a: 'l' }); txt(799, 383, '5', { a: 'l' }); txt(808, 413, 'NRM', { a: 'l' });
txt(1082, 52, 'Tilt- corrected', { size: 15 }); txt(1091, 68, 'N');
txt(1047, 279, 'Mmax= 38.4E-03&nbsp; A/m', { a: 'l' });
txt(993, 322, 'M/Mmax', { rot: -90, size: 15 });
txt(1182, 423, 'mT', { a: 'l' });

// KA 67
bx(208, 463, 290, 498); txt(249, 481, 'KA 67', { bold: true, italic: true, size: 20 });
txt(95, 462, 'N/Up', { a: 'l' });
txt(30, 692, 'W'); txt(166, 692, 'E');
txt(69, 685, '580', { a: 'l' }); txt(65, 704, '350', { a: 'l' }); txt(107, 699, '480', { a: 'l' });
txt(107, 715, '250', { a: 'l' }); txt(53, 724, '150', { a: 'l' }); txt(40, 764, 'NRM', { a: 'l' });
txt(82, 790, 'S/Down&nbsp; Unit=8.75E-03', { a: 'l' });
txt(425, 459, 'N');
txt(372, 660, 'Mmax= 46.3E-03&nbsp; A/m', { a: 'l' });
txt(312, 712, 'M/Mmax', { rot: -90, size: 15 });
txt(552, 783, 'T (' + SUP + 'C)', { a: 'l' });

// Gh246
bx(880, 462, 960, 497); txt(920, 480, 'Gh246', { bold: true, italic: true, size: 20 });
txt(688, 469, 'N /Up', { a: 'l' }); txt(924, 609, 'E', { a: 'l' });
txt(677, 606, '120', { a: 'l' }); txt(680, 623, '100', { a: 'l' }); txt(709, 634, '50', { a: 'l' });
txt(727, 648, '30', { a: 'l' }); txt(748, 662, '20', { a: 'l' }); txt(792, 694, '10', { a: 'l' });
txt(850, 728, '5', { a: 'l' }); txt(869, 757, 'NRM', { a: 'l' });
txt(680, 790, 'S/Down', { a: 'l' }); txt(757, 790, 'Unit= 5.60E-03 A/m', { a: 'l' });
txt(1109, 453, 'N');
txt(1052, 654, 'Mmax= 36.3E-03 A/m', { a: 'l' });
txt(1003, 700, 'M/Mmax', { rot: -90, size: 15 });
txt(1188, 780, 'mT', { a: 'l' });

// ================= (B) =================
bx(119, 807, 378, 835);
txt(248.5, 821, '(B) Equal-area projections', { bold: true, size: 20 });

stereoChart(124, 955, 97, 97, netSets(tvInSolid, tvInOpen, tvInMean), 'B');
stereoChart(334, 955, 97, 97, netSets(tvTcSolid, tvTcOpen, tvTcMean), 'B');
stereoChart(125, 1254, 97, 97, netSets(kaInSolid, kaInOpen, kaInMean), 'B');
stereoChart(333, 1254, 97, 97, netSets(kaTcSolid, kaTcOpen, kaTcMean), 'B');
stereoChart(125, 1545, 98, 98, netSets(ghInSolid, ghInOpen, ghInMean), 'B');
stereoChart(342, 1545, 99, 99, netSets(ghTcSolid, ghTcOpen, ghTcMean), 'B');

txt(124, 852, 'N');
txt(26, 869, 'In-situ', { a: 'l' });
txt(182, 869, 'Tilt- corrected', { a: 'l' });
txt(124, 1061, '180', { size: 15 }); txt(334, 1061, '180', { size: 15 });
txt(13, 1038, 'Down', { a: 'l' }); dot(61, 1039, 2.5, true);
txt(24, 1052, 'Up', { a: 'l' }); dot(61, 1052, 2.5, false, '#555');
txt(232, 1053, 'Section TV', { bold: true, size: 20 });
txt(233, 1357, 'Section KA', { bold: true, size: 20 });
txt(233, 1643, 'Section GH', { bold: true, size: 20 });

function statTable(y1, y2, ys, headX, valX, stats) {
  bx(12, y1, 456, y2, '#6f6f6f', 1.5);
  tableHead.forEach((h, i) => txt(headX[i], ys[0], h));
  rowNames.forEach((n, r) => {
    txt(r === 0 ? 18 : 14, ys[r + 1], n, { a: 'l' });
    stats[r].forEach((v, i) => { if (v) txt(valX[i], ys[r + 1], v); });
  });
}
statTable(1067, 1124, [1078, 1097, 1115], [190, 242, 307, 365, 423], [193, 247, 307, 365, 427], tvStats);
statTable(1367, 1422, [1376, 1395, 1413], [191, 240, 296, 357, 420], [190, 240, 294, 357, 418], kaStats);
statTable(1654, 1716, [1668, 1686, 1704], [191, 236, 295, 352, 420], [193, 239, 295, 354, 421], ghStats);

// ================= (C) =================
bx(792, 807, 965, 828);
txt(878.5, 817.5, '(C) Reversal test', { bold: true, size: 20 });

cdfChart(0, 0, [0.238, 0.98], tvXTicks, tvXBlue, tvXRed, tvXBounds);
cdfChart(1, 0, [-1.036, 0.553], tvYTicks, tvYBlue, tvYRed, tvYBounds);
cdfChart(2, 0, [0.148, 0.904], tvZTicks, tvZBlue, tvZRed, tvZBounds);
cdfChart(0, 1, [0.488, 0.899], kaXTicks, kaXBlue, kaXRed, kaXBounds);
cdfChart(1, 1, [-0.536, 0.441], kaYTicks, kaYBlue, kaYRed, kaYBounds);
cdfChart(2, 1, [0.472, 0.828], kaZTicks, kaZBlue, kaZRed, kaZBounds);
cdfChart(0, 2, [0.452, 0.948], ghXTicks, ghXBlue, ghXRed, ghXBounds);
cdfChart(1, 2, [-0.028, 0.398], ghYTicks, ghYBlue, ghYRed, ghYBounds);
cdfChart(2, 2, [0.462, 0.856], ghZTicks, ghZBlue, ghZRed, ghZBounds);

txt(488, 927, 'Section TV', { bold: true, size: 20, rot: -90 });
txt(489, 1153, 'Section KA', { bold: true, size: 20, rot: -90 });
txt(489, 1363, 'Section GH', { bold: true, size: 20, rot: -90 });
txt(530, 926, 'Cumulative Distribution', { size: 17, rot: -90 });
txt(648, 1048, 'X componenet'); txt(882, 1048, 'Y componenet'); txt(1128, 1048, 'Z componenet');

// ================= (D) =================
bx(802, 1481, 943, 1504);
txt(872.5, 1492.5, '(D) Fold test', { bold: true, size: 20 });
txt(503, 1597, 'All data set<br>(TV, KA, GH)', { bold: true, size: 21, rot: -90, lh: '1.15', align: 'center' });

function foldSets(solid, open) {
  return [
    { data: P(solid), pointRadius: 3.4, pointBackgroundColor: PURPLE, pointBorderColor: PURPLE, pointBorderWidth: 0.5, clip: false },
    { data: P(open), pointRadius: 3.4, pointBackgroundColor: 'rgba(0,0,0,0)', pointBorderColor: PURPLE, pointBorderWidth: 1.2, clip: false }
  ];
}
stereoChart(651.7, 1597.5, 85, 82.5, foldSets(foldInSolid, foldInOpen), 'D', [561, 1507, 181, 180]);
stereoChart(879.3, 1597.5, 83.3, 82.5, foldSets(foldTcSolid, foldTcOpen), 'D', [788, 1507, 180, 180]);
bx(561, 1507, 742, 1687, '#a8a8a8', 1);
bx(788, 1507, 968, 1687, '#a8a8a8', 1);
txt(651.6, 1702, 'In-situ (Geographic)', { size: 15 });
txt(879, 1702, 'Tilt-corrected (Stratigraphic)', { size: 15 });

const foldMarks = {
  id: 'foldMarks',
  beforeDatasetsDraw(chart) {
    const { ctx, chartArea: a, scales: { x } } = chart;
    ctx.save(); ctx.strokeStyle = '#4f6fd6'; ctx.lineWidth = 1; ctx.setLineDash([3, 2]);
    foldBounds.forEach(v => { const px = x.getPixelForValue(v); ctx.beginPath(); ctx.moveTo(px, a.top); ctx.lineTo(px, a.bottom); ctx.stroke(); });
    ctx.restore();
  }
};
axisChart({ l: 1038, t: 1504, w: 170, h: 177 }, [
  { data: P(foldCdf), borderColor: '#27a327', borderWidth: 1.4, pointRadius: 0, cubicInterpolationMode: 'monotone', fill: false },
  { data: P(zip(unfoldPct, tauUpper)), borderColor: '#3b1a0e', borderWidth: 1.6, pointRadius: 0, tension: 0.3, fill: false },
  { data: P(zip(unfoldPct, tauLower)), borderColor: '#c5311c', borderWidth: 1, pointRadius: 0, tension: 0.3,
    fill: '-1', backgroundColor: 'rgba(236,72,34,0.95)' }
], { min: -2, max: 148, ticks: foldXTicks }, { min: -0.05, max: 1.05, ticks: cdfYTicks }, [foldMarks], 40, 24, 'line');

txt(1113, 1493, '86 - 106 Precent Unfolding');
txt(996, 1600, 'tau_1 (red), CDF (green)', { size: 17, rot: -90 });
txt(1137, 1706, '%Unfolding');
</script>
</body>
</html>
